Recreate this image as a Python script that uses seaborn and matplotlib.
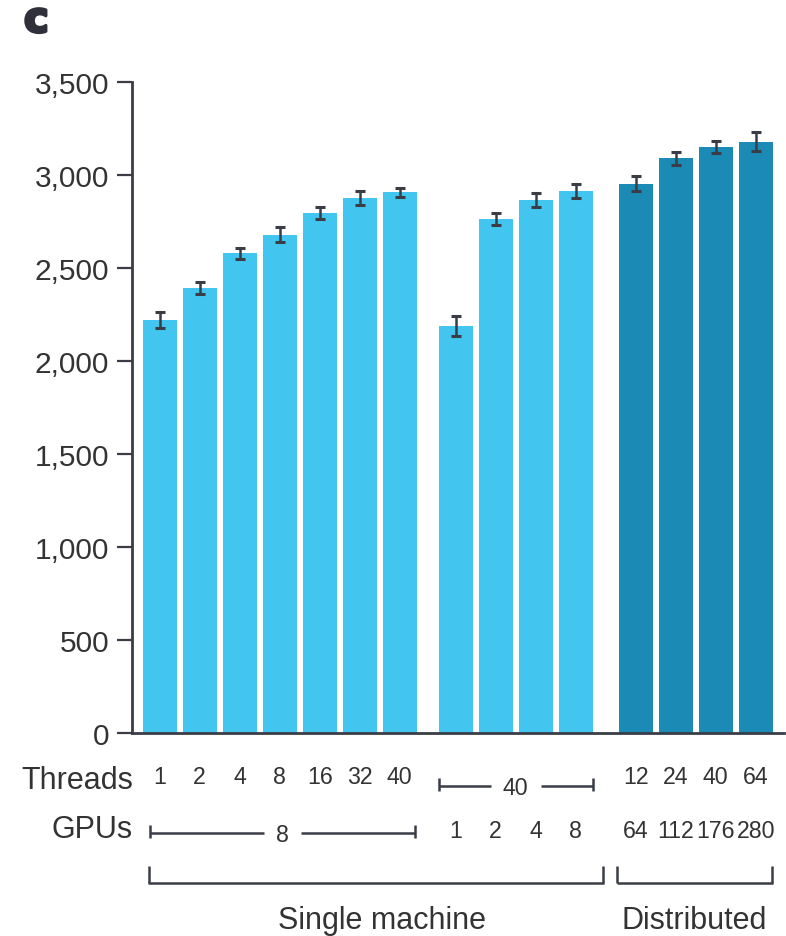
import numpy as np
import pandas as pd
import matplotlib
matplotlib.use("Agg")
import matplotlib.pyplot as plt
import matplotlib.patheffects as pe
from matplotlib.lines import Line2D
from matplotlib.transforms import blended_transform_factory
from matplotlib.ticker import FuncFormatter
import seaborn as sns

# ---- data -------------------------------------------------------------
setup = ["Single machine"] * 11 + ["Distributed"] * 4
block = ["cpu"] * 7 + ["gpu"] * 4 + ["dist"] * 4
threads = ["1", "2", "4", "8", "16", "32", "40",
           "40", "40", "40", "40",
           "12", "24", "40", "64"]
gpus = ["8", "8", "8", "8", "8", "8", "8",
        "1", "2", "4", "8",
        "64", "112", "176", "280"]
elo = [2219, 2393, 2579, 2678, 2794, 2875, 2905,
       2185, 2762, 2864, 2911,
       2952, 3088, 3150, 3177]
elo_err = [43, 32, 30, 42, 31, 35, 24,
           54, 31, 38, 37,
           42, 35, 31, 52]
y_ticks = [0, 500, 1000, 1500, 2000, 2500, 3000, 3500]

# ---- styling ----------------------------------------------------------
sns.set_theme(style="white")
plt.rcParams["font.family"] = ["Liberation Sans", "DejaVu Sans"]

LIGHT = "#42C6EF"
DARK = "#1B8BB5"
INK = "#3a3d46"
TEXT = "#333333"

W, H = 786, 937
fig = plt.figure(figsize=(W / 100, H / 100), dpi=100)

# slot positions: one unit per bar, extra space between blocks
block_gap = {"cpu": 0.0, "gpu": 0.4, "dist": 0.9}
pos = np.arange(len(elo)) + np.array([block_gap[b] for b in block])

df = pd.DataFrame({"pos": pos, "elo": elo, "err": elo_err,
                   "setup": setup, "block": block,
                   "threads": threads, "gpus": gpus})

ax_left, ax_right = 132 / W, 784 / W
ax_bottom, ax_top = 1 - 734 / H, 1 - 82.7 / H
ax = fig.add_axes([ax_left, ax_bottom, ax_right - ax_left, ax_top - ax_bottom])

sns.barplot(data=df, x="pos", y="elo", hue="setup",
            palette={"Single machine": LIGHT, "Distributed": DARK},
            native_scale=True, dodge=False, width=0.85, errorbar=None,
            saturation=1, linewidth=0, legend=False, ax=ax)

ax.errorbar(df["pos"], df["elo"], yerr=df["err"], fmt="none",
            ecolor=INK, elinewidth=1.8, capsize=3.3, capthick=2.2, zorder=3)

ax.set_xlim(-0.6925, 15.6075)
ax.set_ylim(0, 3500)
ax.set_yticks(y_ticks)
ax.yaxis.set_major_formatter(FuncFormatter(lambda v, _: f"{int(v):,}"))
ax.set_xticks([])
ax.set_xlabel("")
ax.set_ylabel("")
ax.tick_params(axis="y", length=10.5, width=1.6, pad=6, labelsize=21.5,
               colors=INK, labelcolor=TEXT, left=True)
for side in ("top", "right"):
    ax.spines[side].set_visible(False)
for side in ("left", "bottom"):
    ax.spines[side].set_color(INK)
    ax.spines[side].set_linewidth(2.0)

# ---- annotation rows below the axis ----------------------------------
trans = blended_transform_factory(ax.transData, fig.transFigure)


def fy(px):
    return 1 - px / H


def hline(x0, x1, ypx):
    ax.add_line(Line2D([x0, x1], [fy(ypx), fy(ypx)], transform=trans,
                       color=INK, lw=1.8, clip_on=False,
                       solid_capstyle="butt"))


def vline(x, y0px, y1px):
    ax.add_line(Line2D([x, x], [fy(y0px), fy(y1px)], transform=trans,
                       color=INK, lw=1.8, clip_on=False,
                       solid_capstyle="butt"))


NUM_FS = 16.7


def span_label(x0, x1, line_px, text, half_gap):
    mid = (x0 + x1) / 2
    hline(x0, mid - half_gap, line_px)
    hline(mid + half_gap, x1, line_px)
    vline(x0, line_px - 8, line_px + 5)
    vline(x1, line_px - 8, line_px + 5)
    ax.text(mid, fy(line_px + 8.5), text, transform=trans, ha="center",
            va="baseline", fontsize=NUM_FS, color=TEXT)


rows = [("Threads", "threads", 789.3, 784.5, 786.7),
        ("GPUs", "gpus", 838.5, 838.0, 834.0)]
for title, col, title_base, num_base, line_px in rows:
    ax.text(-0.67, fy(title_base), title, transform=trans, ha="right",
            va="baseline", fontsize=22, color=TEXT)
    for b in ["cpu", "gpu", "dist"]:
        sub = df[df["block"] == b]
        vals = sub[col].tolist()
        if len(set(vals)) == 1 and len(vals) > 1:
            x0 = sub["pos"].min() - 0.425
            x1 = sub["pos"].max() + 0.425
            if b == "cpu":
                x0 = sub["pos"].min() - 0.25
                x1 = sub["pos"].max() + 0.38
            gap = 0.3 + 0.16 * len(vals[0])
            span_label(x0, x1, line_px, vals[0], gap)
        else:
            for x, v in zip(sub["pos"], vals):
                ax.text(x, fy(num_base), v, transform=trans, ha="center",
                        va="baseline", fontsize=NUM_FS, color=TEXT)

# group brackets
groups = [("Single machine", -0.28, 11.08, 5.56),
          ("Distributed", 11.44, 15.3, 13.36)]
for name, x0, x1, xt in groups:
    hline(x0 - 0.02, x1 + 0.02, 884)
    vline(x0, 866.5, 884)
    vline(x1, 866.5, 884)
    ax.text(xt, fy(929.5), name, transform=trans, ha="center",
            va="baseline", fontsize=22, color=TEXT)

# panel letter
fig.text(24 / W, fy(33), "c", fontsize=30, fontweight="bold",
         color="#2f3039", ha="left", va="baseline",
         family=["DejaVu Sans"],
         path_effects=[pe.withStroke(linewidth=2.2, foreground="#2f3039")])

fig.savefig("out.png", dpi=100)
